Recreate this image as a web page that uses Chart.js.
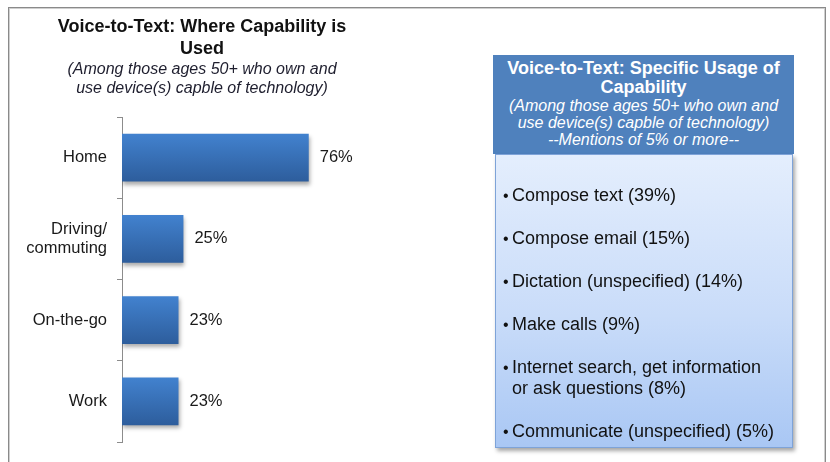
<!DOCTYPE html>
<html>
<head>
<meta charset="utf-8">
<script src="https://cdn.jsdelivr.net/npm/chart.js@4.4.1/dist/chart.umd.min.js"></script>
<style>
  html, body { margin: 0; padding: 0; background: #ffffff; }
  #wrap { position: relative; width: 830px; height: 462px; overflow: hidden; font-family: Arial, "Liberation Sans", sans-serif; }
  #frame { position: absolute; left: 8px; top: 7px; width: 816px; height: 470px; border: 1px solid #8a8a8a; box-shadow: inset 0 0 0 1px #cfcfcf; }
  canvas { position: absolute; left: 0; top: 0; }
  #usage { position: absolute; left: 493px; top: 55px; width: 301px; }
  #usage .head { background: #4f81bd; color: #ffffff; text-align: center; height: 99px; box-sizing: border-box; padding-top: 4px; }
  #usage .head .t { font-weight: bold; font-size: 18px; line-height: 19px; }
  #usage .head .s { font-style: italic; font-size: 16px; line-height: 17px; }
  #usage .body { margin-left: 2px; width: 298px; height: 294px; box-sizing: border-box; border: 1px solid #7ea3d8;
    background: linear-gradient(to bottom, #e4eefd 0%, #c9dcf9 55%, #a9c7f4 100%);
    box-shadow: 2px 3px 4px rgba(0,0,0,0.35); padding-top: 30px; color: #111; }
  #usage .body .it { position: relative; padding-left: 16px; font-size: 18px; line-height: 21px; margin-bottom: 22px; white-space: nowrap; }
  #usage .body .it::before { content: "\2022"; position: absolute; left: 7px; top: 0; font-size: 16px; }
</style>
</head>
<body>
<div id="wrap">
  <div id="frame"></div>
  <canvas id="c" width="830" height="462"></canvas>
  <div id="usage">
    <div class="head">
      <div class="t">Voice-to-Text: Specific Usage of</div>
      <div class="t">Capability</div>
      <div class="s">(Among those ages 50+ who own and</div>
      <div class="s">use device(s) capble of technology)</div>
      <div class="s">--Mentions of 5% or more--</div>
    </div>
    <div class="body" id="list"></div>
  </div>
</div>
<script>
// Where voice-to-text is used (share of respondents, %)
const places = ['Home', ['Driving/', 'commuting'], 'On-the-go', 'Work'];
const placeShares = [76, 25, 23, 23];

// Specific uses mentioned by 5% or more
const usageItems = [
  'Compose text (39%)',
  'Compose email (15%)',
  'Dictation (unspecified) (14%)',
  'Make calls (9%)',
  'Internet search, get information\nor ask questions (8%)',
  'Communicate (unspecified) (5%)'
];

const titleLines = ['Voice-to-Text: Where Capability is', 'Used'];
const subtitleLines = ['(Among those ages 50+ who own and', 'use device(s) capble of technology)'];

const FONT = 'Arial, "Liberation Sans", sans-serif';

// usage list
const list = document.getElementById('list');
usageItems.forEach(t => {
  const d = document.createElement('div');
  d.className = 'it';
  t.split('\n').forEach((ln, i) => {
    if (i) d.appendChild(document.createElement('br'));
    d.appendChild(document.createTextNode(ln));
  });
  list.appendChild(d);
});

// vertical gradient for each bar
function barFill(ctx) {
  const chart = ctx.chart;
  const y = chart.scales && chart.scales.y;
  if (!y || ctx.type !== 'data') return '#3a72b8';
  const cy = y.getPixelForValue(ctx.dataIndex);
  if (!isFinite(cy)) return '#3a72b8';
  const half = 24;
  const g = chart.ctx.createLinearGradient(0, cy - half, 0, cy + half);
  g.addColorStop(0, '#4282cf');
  g.addColorStop(1, '#2d5d9c');
  return g;
}

// soft drop shadow under the bars
const barShadow = {
  id: 'barShadow',
  beforeDatasetsDraw(chart) {
    const c = chart.ctx;
    c.save();
    c.shadowColor = 'rgba(0,0,0,0.32)';
    c.shadowBlur = 4;
    c.shadowOffsetX = 1;
    c.shadowOffsetY = 3;
  },
  afterDatasetsDraw(chart) {
    chart.ctx.restore();
  }
};

// percentage labels at the end of each bar
const valueLabels = {
  id: 'valueLabels',
  afterDatasetsDraw(chart) {
    const c = chart.ctx;
    const meta = chart.getDatasetMeta(0);
    c.save();
    c.font = '16.5px ' + FONT;
    c.fillStyle = '#1a1a1a';
    c.textAlign = 'left';
    c.textBaseline = 'middle';
    meta.data.forEach((bar, i) => {
      c.fillText(chart.data.datasets[0].data[i] + '%', bar.x + 11, bar.y);
    });
    c.restore();
  }
};

const chart = new Chart(document.getElementById('c'), {
  type: 'bar',
  data: {
    labels: places,
    datasets: [{
      data: placeShares,
      backgroundColor: barFill,
      borderWidth: 0,
      barPercentage: 0.59,
      categoryPercentage: 1.0
    }]
  },
  plugins: [barShadow, valueLabels],
  options: {
    indexAxis: 'y',
    responsive: false,
    animation: false,
    layout: { padding: { left: 10, right: 436, top: 0, bottom: 20 } },
    plugins: {
      legend: { display: false },
      tooltip: { enabled: false },
      title: {
        display: true,
        text: titleLines,
        color: '#111111',
        font: { family: FONT, size: 18, weight: 'bold', lineHeight: '21.5px' },
        padding: { top: 16.5, bottom: 0 }
      },
      subtitle: {
        display: true,
        text: subtitleLines,
        color: '#1e1e2e',
        font: { family: FONT, size: 16, style: 'italic', lineHeight: '19px' },
        padding: { top: 0.5, bottom: 19 }
      }
    },
    scales: {
      x: { display: false, min: 0, max: 110.7 },
      y: {
        afterFit(scale) { scale.width = 112; },
        grid: { drawOnChartArea: false, drawTicks: true, tickLength: 5, color: '#8c8c8c', offset: true },
        border: { display: true, color: '#8c8c8c', width: 1 },
        ticks: { color: '#1a1a1a', padding: 10, font: { family: FONT, size: 16.5, lineHeight: '19px' } }
      }
    }
  }
});
chart.update();
</script>
</body>
</html>
